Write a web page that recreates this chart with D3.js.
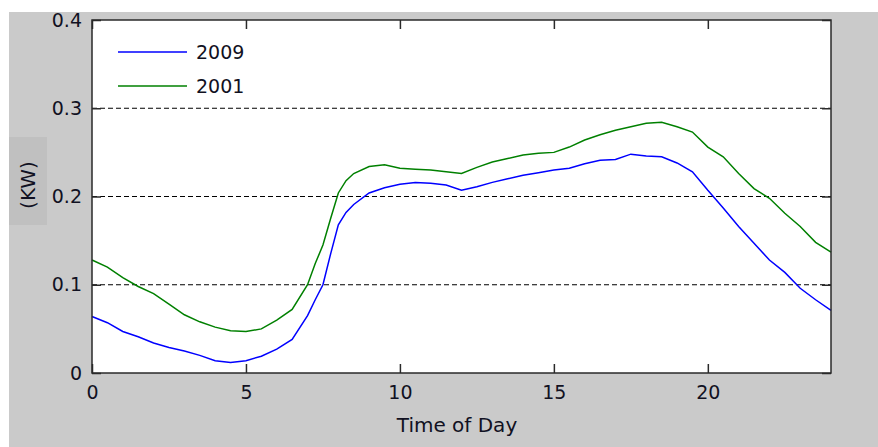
<!DOCTYPE html>
<html><head><meta charset="utf-8">
<script src="https://cdn.jsdelivr.net/npm/d3@7"></script>
<style>body{margin:0;background:#fff}svg{display:block}</style>
</head><body><svg id="c" width="878" height="447"></svg>
<script>
const hours = [0,0.5,1,1.5,2,2.5,3,3.5,4,4.5,5,5.5,6,6.5,7,7.25,7.5,7.75,8,8.25,8.5,9,9.5,10,10.5,11,11.5,12,12.5,13,13.5,14,14.5,15,15.5,16,16.5,17,17.5,18,18.5,19,19.5,20,20.5,21,21.5,22,22.5,23,23.5,24];
const kw2009 = [0.064,0.057,0.047,0.041,0.034,0.029,0.025,0.020,0.014,0.012,0.014,0.019,0.027,0.038,0.065,0.083,0.100,0.135,0.168,0.182,0.191,0.204,0.210,0.214,0.216,0.215,0.213,0.207,0.211,0.216,0.220,0.224,0.227,0.230,0.232,0.237,0.241,0.242,0.248,0.246,0.245,0.238,0.228,0.207,0.187,0.166,0.147,0.128,0.114,0.096,0.083,0.071];
const kw2001 = [0.128,0.120,0.108,0.098,0.090,0.078,0.066,0.058,0.052,0.048,0.047,0.050,0.060,0.072,0.100,0.124,0.145,0.175,0.204,0.218,0.226,0.234,0.236,0.232,0.231,0.230,0.228,0.226,0.233,0.239,0.243,0.247,0.249,0.250,0.256,0.264,0.270,0.275,0.279,0.283,0.284,0.279,0.273,0.256,0.245,0.226,0.209,0.198,0.181,0.166,0.148,0.137];
const seriesNames = ["2009","2001"];
const seriesColors = ["#0000ff","#008000"];
const xTicks = [0,5,10,15,20];
const yTicks = [0,0.1,0.2,0.3,0.4];
const gridValues = [0.1,0.2,0.3];

const svg = d3.select("#c");
const F = "'DejaVu Sans', sans-serif";
// backgrounds
svg.append("rect").attr("x",9).attr("y",12).attr("width",869).attr("height",435).attr("fill","#cacaca");
svg.append("rect").attr("x",9).attr("y",137).attr("width",38).attr("height",88).attr("fill","#c0c0c0");

const L=92, R=831, T=20, B=373;
const x = d3.scaleLinear().domain([0,24]).range([L,R]);
const y = d3.scaleLinear().domain([0,0.4]).range([B,T]);

svg.append("rect").attr("x",L).attr("y",T).attr("width",R-L).attr("height",B-T).attr("fill","#fff");

// grid
svg.append("g").selectAll("line").data(gridValues).join("line")
  .attr("x1",L).attr("x2",R).attr("y1",d=>y(d)).attr("y2",d=>y(d))
  .attr("stroke","#000").attr("stroke-width",1.2).attr("stroke-dasharray","5,3");

// lines
const series = [kw2009, kw2001];
const line = d3.line().x((d,i)=>x(hours[i])).y(d=>y(d));
series.forEach((s,k)=>{
  svg.append("path").datum(s).attr("d",line).attr("fill","none")
    .attr("stroke",seriesColors[k]).attr("stroke-width",1.5);
});

// axes (inward ticks)
const tickLen = 9;
const gB = svg.append("g").attr("transform",`translate(0,${B})`)
  .call(d3.axisBottom(x).tickValues(xTicks).tickSizeInner(-tickLen).tickSizeOuter(0).tickPadding(13).tickFormat(d3.format("d")));
const gT = svg.append("g").attr("transform",`translate(0,${T})`)
  .call(d3.axisTop(x).tickValues(xTicks).tickSizeInner(-tickLen).tickSizeOuter(0).tickFormat(""));
const gL = svg.append("g").attr("transform",`translate(${L},0)`)
  .call(d3.axisLeft(y).tickValues(yTicks).tickSizeInner(-tickLen).tickSizeOuter(0).tickPadding(10).tickFormat(d=>d===0?"0":d3.format(".1f")(d)));
const gR = svg.append("g").attr("transform",`translate(${R},0)`)
  .call(d3.axisRight(y).tickValues(yTicks).tickSizeInner(-tickLen).tickSizeOuter(0).tickFormat(""));
[gB,gT,gL,gR].forEach(g=>{
  g.select(".domain").remove();
  g.selectAll("line").attr("stroke","#2a2a2a").attr("stroke-width",1.5);
  g.selectAll("text").attr("fill","#111122").style("font-family",F).style("font-size","19px");
});
gB.selectAll("text").attr("dy","0.71em");
svg.append("rect").attr("x",L).attr("y",T).attr("width",R-L).attr("height",B-T)
  .attr("fill","none").attr("stroke","#2a2a2a").attr("stroke-width",1.5);

// labels
svg.append("text").attr("x",457).attr("y",432).attr("text-anchor","middle")
  .style("font-family",F).style("font-size","20px").attr("fill","#111122").text("Time of Day");
svg.append("text").attr("transform","translate(35,185) rotate(-90)").attr("text-anchor","middle")
  .style("font-family",F).style("font-size","20px").attr("fill","#111122").text("(KW)");

// legend
const lg = svg.append("g");
seriesNames.forEach((n,k)=>{
  const yy = 52 + k*34;
  lg.append("line").attr("x1",118).attr("x2",187).attr("y1",yy).attr("y2",yy)
    .attr("stroke",seriesColors[k]).attr("stroke-width",1.5);
  lg.append("text").attr("x",196).attr("y",yy+7).style("font-family",F).style("font-size","19px")
    .attr("fill","#111122").text(n);
});
</script></body></html>
